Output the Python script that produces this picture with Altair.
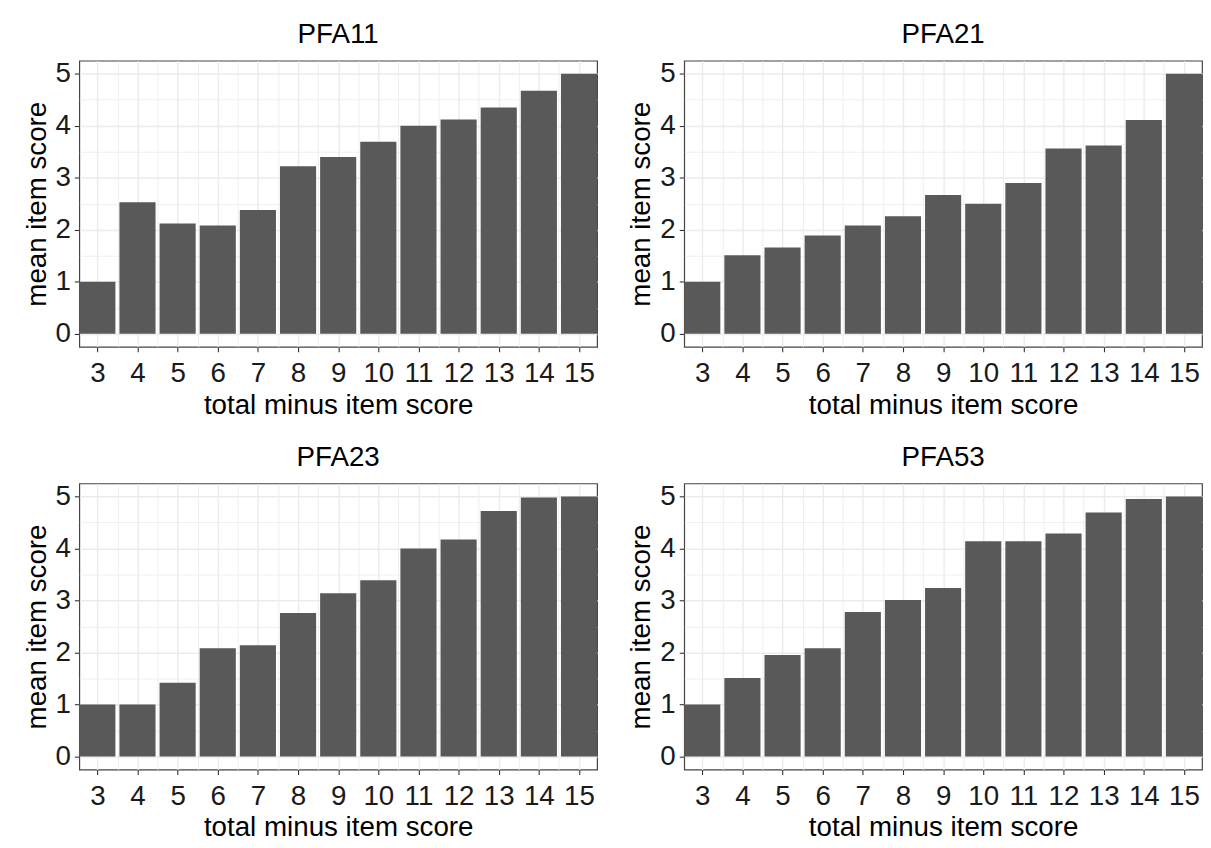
import altair as alt
import pandas as pd

scores = list(range(3, 16))
items = ["PFA11", "PFA21", "PFA23", "PFA53"]
pfa11 = [1.0, 2.53, 2.12, 2.08, 2.38, 3.22, 3.40, 3.69, 4.00, 4.12, 4.35, 4.67, 5.0]
pfa21 = [1.0, 1.51, 1.66, 1.89, 2.08, 2.26, 2.67, 2.50, 2.90, 3.56, 3.62, 4.11, 5.0]
pfa23 = [1.0, 1.0, 1.42, 2.08, 2.14, 2.76, 3.14, 3.39, 4.00, 4.17, 4.72, 4.98, 5.0]
pfa53 = [1.0, 1.51, 1.95, 2.08, 2.78, 3.01, 3.24, 4.14, 4.14, 4.29, 4.69, 4.95, 5.0]
series = [pfa11, pfa21, pfa23, pfa53]

x_ticks = [3 + 0.5 * i for i in range(25)]
y_ticks = [0.5 * i for i in range(11)]

FONT = "Liberation Sans"
FS = 28
minor_test = "datum.value % 1 !== 0"


def make_axis(values, title, label_pad, title_pad):
    return alt.Axis(
        values=values,
        title=title,
        labelExpr="datum.value % 1 === 0 ? format(datum.value, 'd') : ''",
        grid=True,
        gridColor="#EBEBEB",
        gridWidth={"condition": {"test": minor_test, "value": 0.8}, "value": 1.4},
        tickOpacity={"condition": {"test": minor_test, "value": 0}, "value": 1},
        tickColor="#333333",
        tickSize=5,
        tickWidth=1.1,
        domain=False,
        labelFont=FONT,
        labelFontSize=FS,
        labelColor="#1a1a1a",
        labelPadding=label_pad,
        labelOverlap=False,
        labelFlush=False,
        titleFont=FONT,
        titleFontSize=FS,
        titleFontWeight="normal",
        titleColor="#000000",
        titlePadding=title_pad,
    )


def panel(name, vals):
    df = pd.DataFrame({"score": scores, "mean": vals})
    return (
        alt.Chart(df)
        .transform_calculate(x0="datum.score - 0.45", x1="datum.score + 0.45")
        .mark_bar(color="#595959")
        .encode(
            x=alt.X(
                "x0:Q",
                scale=alt.Scale(domain=[2.55, 15.45], nice=False, zero=False),
                axis=make_axis(x_ticks, "total minus item score", 8, 4),
            ),
            x2="x1:Q",
            y=alt.Y(
                "mean:Q",
                scale=alt.Scale(domain=[-0.25, 5.25], nice=False, zero=False),
                axis=make_axis(y_ticks, "mean item score", 4, 4),
            ),
            y2=alt.datum(0),
        )
        .properties(
            width=523,
            height=289,
            title=alt.TitleParams(
                name, font=FONT, fontSize=FS, fontWeight="normal", color="#000000",
                anchor="middle", offset=11,
            ),
        )
    )


charts = [panel(n, v) for n, v in zip(items, series)]

chart = (
    alt.vconcat(
        alt.hconcat(charts[0], charts[1], spacing=29),
        alt.hconcat(charts[2], charts[3], spacing=29),
        spacing=23,
    )
    .properties(padding={"left": 14, "top": 8, "right": 0, "bottom": 0}, background="white")
    .configure_view(stroke="#444444", strokeWidth=1.2)
)

chart.save("out.html", embed_options={"renderer": "svg", "actions": False})
